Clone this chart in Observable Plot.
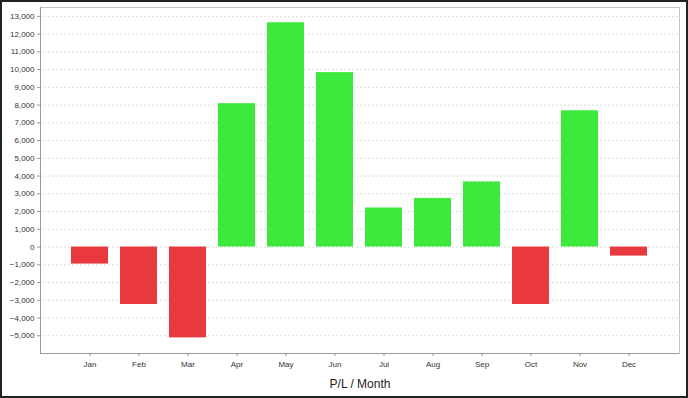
<!DOCTYPE html>
<html>
<head>
<meta charset="utf-8">
<script src="https://cdn.jsdelivr.net/npm/d3@7"></script>
<script src="https://cdn.jsdelivr.net/npm/@observablehq/plot@0.6"></script>
<style>
  html, body { margin: 0; padding: 0; background: #fff; }
  #wrap { position: relative; width: 688px; height: 398px; overflow: hidden; }
  #border { position: absolute; left: 0; top: 0; width: 688px; height: 398px; box-sizing: border-box; border: 2px solid #222; pointer-events: none; }
  svg { display: block; }
</style>
</head>
<body>
<div id="wrap"><div id="chart"></div><div id="border"></div></div>
<script>
const months = ["Jan","Feb","Mar","Apr","May","Jun","Jul","Aug","Sep","Oct","Nov","Dec"];
const values = [-960, -3240, -5120, 8080, 12640, 9830, 2200, 2740, 3670, -3240, 7680, -510];
const yTicks = [-5000,-4000,-3000,-2000,-1000,0,1000,2000,3000,4000,5000,6000,7000,8000,9000,10000,11000,12000,13000];
const xLabel = "P/L / Month";

const data = months.map((m, i) => ({month: m, value: values[i]}));
const fmt = d3.format(",");

const chart = Plot.plot({
  width: 688,
  height: 398,
  marginTop: 7,
  marginBottom: 45,
  marginLeft: 40,
  marginRight: 9,
  style: {fontFamily: "'Liberation Sans', Arial, sans-serif", fontSize: "8px", color: "#333", background: "#fff"},
  x: {domain: months, paddingInner: 0.24, paddingOuter: 0.64, label: null},
  y: {domain: [-6000, 13500], label: null},
  marks: [
    Plot.ruleY(yTicks, {stroke: "#dcdcdc", strokeDasharray: "2,2", strokeWidth: 1}),
    Plot.barY(data, {x: "month", y: "value", fill: d => d.value >= 0 ? "#3de93a" : "#e8393e"}),
    Plot.frame({stroke: "#c4c4c4"}),
    Plot.axisY({ticks: yTicks, tickFormat: fmt, tickSize: 3, tickPadding: 3, stroke: "#999", fill: "#333", label: null}),
    Plot.axisX({tickSize: 3, tickPadding: 5, stroke: "#999", fill: "#333", label: null}),
    Plot.ruleY([-6000], {stroke: "#9a9a9a"}),
    Plot.frame({anchor: "left", stroke: "#9a9a9a"}),
    Plot.text([xLabel], {frameAnchor: "bottom", dy: 31, text: d => d, fontSize: 12, fill: "#222", lineAnchor: "middle"})
  ]
});
document.getElementById("chart").appendChild(chart);
</script>
</body>
</html>
